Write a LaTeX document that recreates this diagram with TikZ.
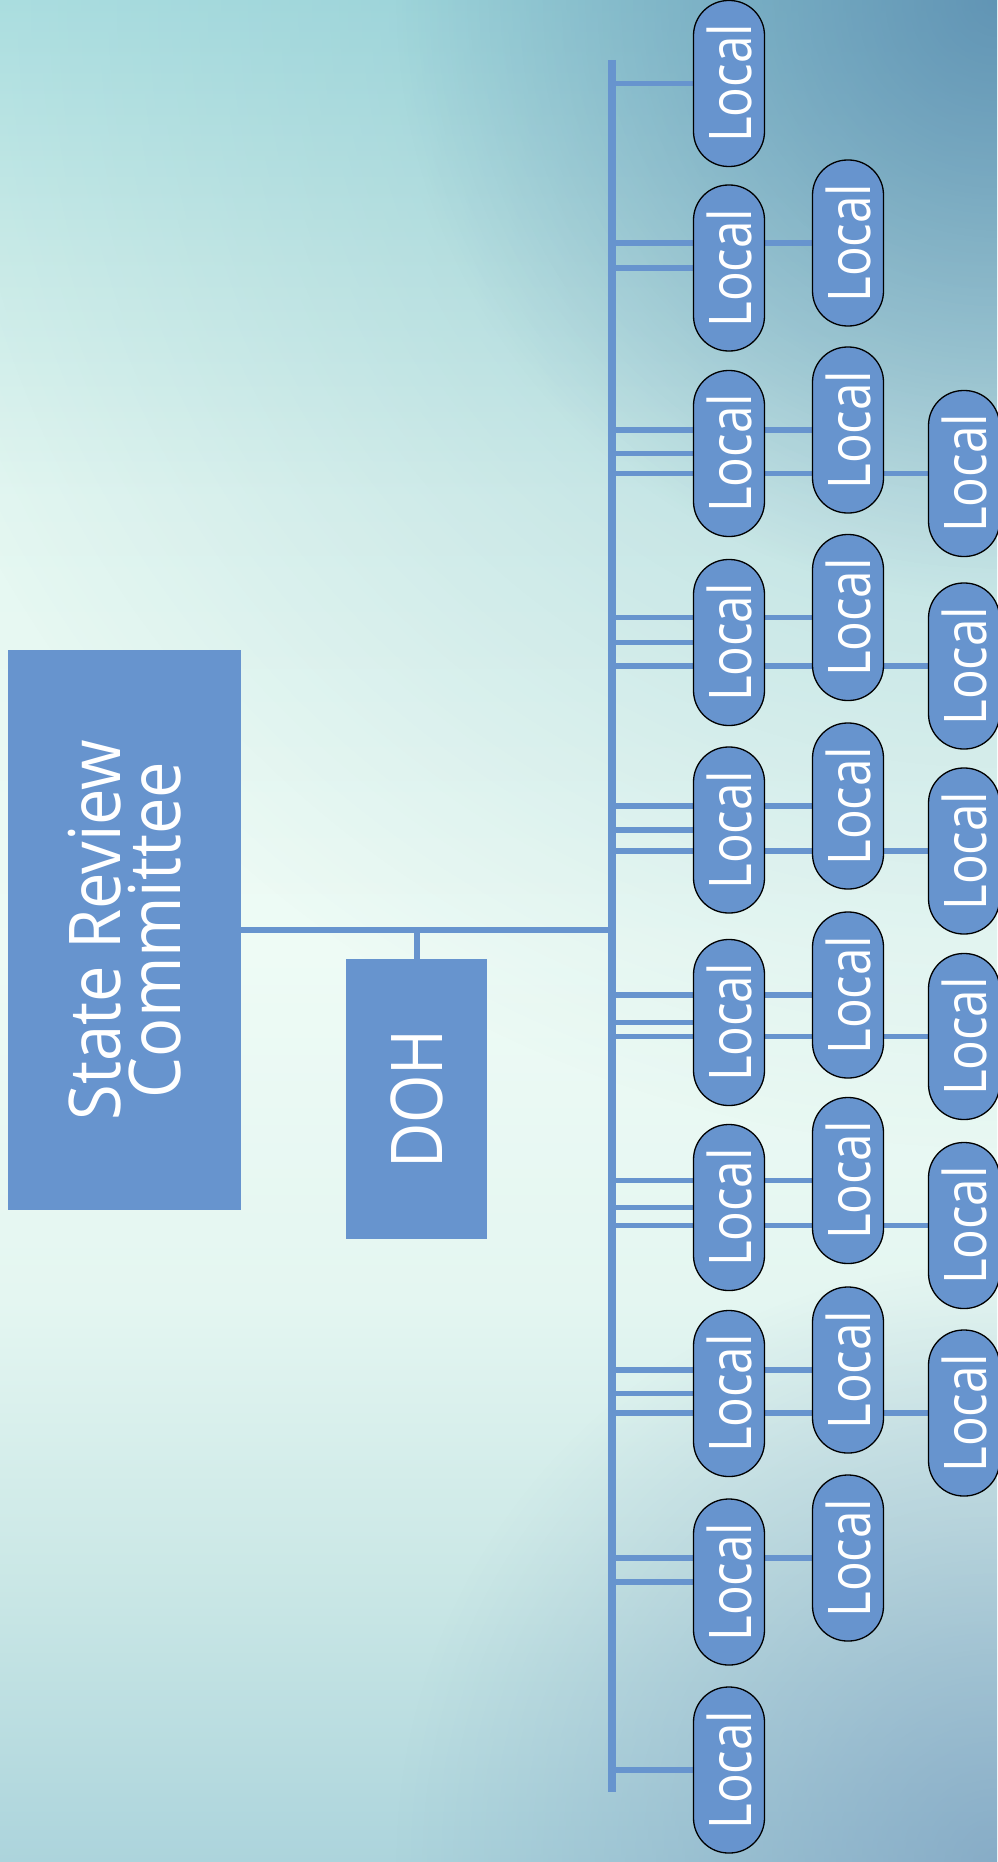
\documentclass[tikz,border=0pt]{standalone}
\usepackage{fontspec}
\newfontfamily\fLocal[FakeStretch=0.84]{Open Sans}
\newfontfamily\fSRC[FakeStretch=0.91]{Open Sans}
\newfontfamily\fDOH[FakeStretch=0.87]{Open Sans}
\usetikzlibrary{fadings}
\definecolor{boxblue}{RGB}{103,148,206}
\definecolor{bgA}{RGB}{176,225,226}
\definecolor{bgB}{RGB}{205,237,233}
\definecolor{bgC}{RGB}{228,247,241}
\definecolor{bgD}{RGB}{238,251,245}
\definecolor{bgE}{RGB}{228,246,241}
\definecolor{bgF}{RGB}{200,230,229}
\definecolor{bgG}{RGB}{172,212,220}
\definecolor{darkTR}{RGB}{70,115,162}
\definecolor{midTR}{RGB}{95,170,190}
\definecolor{darkBR}{RGB}{105,140,182}
\pgfdeclareverticalshading{bgv}{100bp}{color(0bp)=(bgG); color(25bp)=(bgG); color(32bp)=(bgF); color(40.1bp)=(bgE); color(49.5bp)=(bgD); color(61.6bp)=(bgC); color(68.3bp)=(bgB); color(75bp)=(bgA); color(100bp)=(bgA)}
\tikzfading[name=cornerfade, inner color=transparent!0, outer color=transparent!100]
\pgfdeclarelayer{bg}
\pgfdeclarelayer{links}
\pgfsetlayers{bg,links,main}
\tikzset{
  localbox/.style={draw=black, line width=1.3pt, fill=boxblue, rounded corners=35pt,
    rotate=90, minimum width=166pt, minimum height=71pt, inner sep=0pt, text=white,
    font=\fLocal\fontsize{58.8}{60}\selectfont},
  bigbox/.style={fill=boxblue, draw=none, rotate=90, inner sep=0pt, text=white},
  link/.style={draw=boxblue, line width=5.5pt},
  spine/.style={draw=boxblue, line width=8pt}
}
\begin{document}
\begin{tikzpicture}[x=1pt,y=-1pt]
\useasboundingbox (0,0) rectangle (997,1862);
\begin{pgfonlayer}{bg}
  \begin{scope}
    \clip (0,0) rectangle (997,1862);
    \shade[shading=bgv] (0,0) rectangle (997,1862);
    \fill[midTR, path fading=cornerfade, fill opacity=0.45] (997,0) circle (1150pt);
    \fill[darkTR, path fading=cornerfade, fill opacity=0.6] (997,0) circle (600pt);
    \fill[darkBR, path fading=cornerfade, fill opacity=0.55] (997,1862) circle (600pt);
  \end{scope}
\end{pgfonlayer}

\node[bigbox, minimum width=560pt, minimum height=233pt, align=center,
      font=\fSRC\fontsize{71.4}{59.5}\selectfont] (src) at (124.5,930) {State Review\\Committee};
\node[bigbox, minimum width=280pt, minimum height=141pt,
      font=\fDOH\fontsize{71.4}{72}\selectfont] (doh) at (416.5,1099) {DOH};

\foreach \n/\y in {a1/83.5, a2/268, a3/453.5, a4/642.5, a5/830, a6/1022.5, a7/1207.5, a8/1393.5, a9/1582, a10/1770}
  {\node[localbox] (\n) at (729,\y) {Local};}
\foreach \n/\y in {b2/243, b3/430, b4/617.5, b5/806, b6/995, b7/1180.5, b8/1370, b9/1558}
  {\node[localbox] (\n) at (848,\y) {Local};}
\foreach \n/\y in {c3/473.5, c4/666, c5/851, c6/1036.5, c7/1225.5, c8/1413}
  {\node[localbox] (\n) at (964,\y) {Local};}

\coordinate (spT) at (612,60);
\coordinate (spB) at (612,1792);

\begin{pgfonlayer}{links}
  \draw[spine] (spT) -- (spB);
  \draw[link, line width=6pt] (src) -- (src -| spT);
  \draw[link, line width=6pt] (doh) -- (doh |- src);
  \foreach \n in {a1,a2,a3,a4,a5,a6,a7,a8,a9,a10,b2,b3,b4,b5,b6,b7,b8,b9,c3,c4,c5,c6,c7,c8}
    {\draw[link] (\n -| spT) -- (\n);}
\end{pgfonlayer}
\end{tikzpicture}
\end{document}
